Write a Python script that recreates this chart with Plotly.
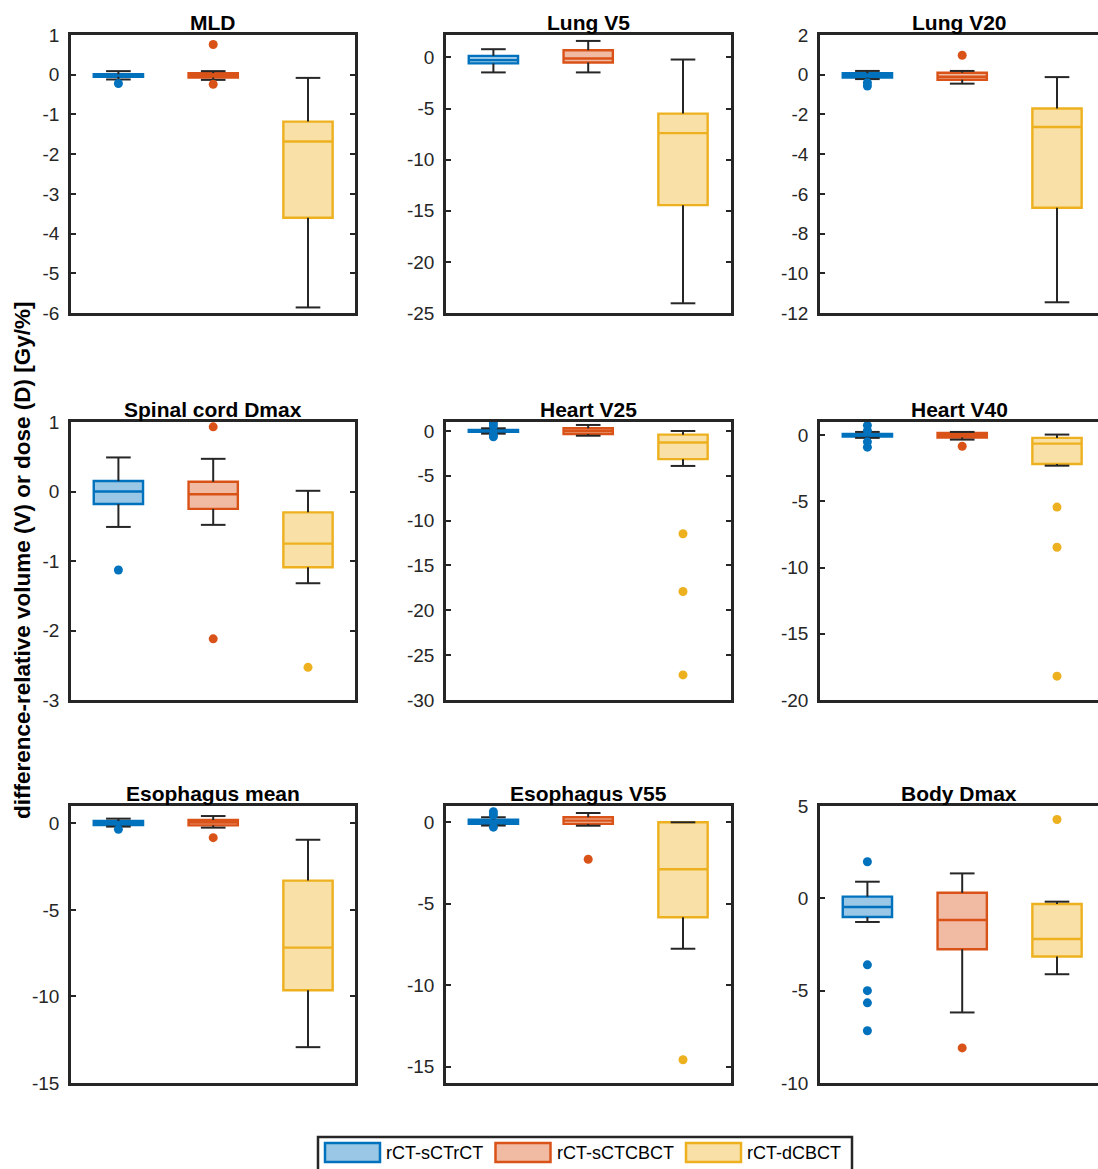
import plotly.graph_objects as go

# ---- data -------------------------------------------------------------
panels = ["MLD", "Lung V5", "Lung V20",
          "Spinal cord Dmax", "Heart V25", "Heart V40",
          "Esophagus mean", "Esophagus V55", "Body Dmax"]
series = ["rCT-sCTrCT", "rCT-sCTCBCT", "rCT-dCBCT"]

# per panel: [rCT-sCTrCT, rCT-sCTCBCT, rCT-dCBCT]
lower_whisker = [
    [-0.12, -0.13, -5.86],
    [-1.46, -1.46, -24.05],
    [-0.22, -0.45, -11.46],
    [-0.51, -0.48, -1.32],
    [-0.30, -0.53, -3.90],
    [-0.20, -0.33, -2.30],
    [-0.19, -0.25, -12.93],
    [-0.20, -0.21, -7.76],
    [-1.28, -6.18, -4.11],
]
q1 = [
    [-0.05, -0.07, -3.60],
    [-0.58, -0.49, -14.45],
    [-0.14, -0.25, -6.70],
    [-0.18, -0.25, -1.09],
    [-0.10, -0.34, -3.14],
    [-0.10, -0.17, -2.17],
    [-0.10, -0.12, -9.64],
    [-0.10, -0.10, -5.83],
    [-1.01, -2.76, -3.15],
]
median = [
    [-0.02, -0.01, -1.68],
    [-0.26, -0.10, -7.40],
    [-0.04, -0.10, -2.63],
    [0.00, -0.04, -0.75],
    [0.00, 0.00, -1.28],
    [0.00, 0.00, -0.63],
    [0.02, 0.05, -7.18],
    [0.03, 0.10, -2.88],
    [-0.47, -1.17, -2.20],
]
q3 = [
    [0.01, 0.04, -1.18],
    [0.16, 0.71, -5.49],
    [0.07, 0.10, -1.70],
    [0.15, 0.14, -0.30],
    [0.10, 0.30, -0.41],
    [0.10, 0.17, -0.20],
    [0.13, 0.19, -3.31],
    [0.16, 0.31, 0.00],
    [0.09, 0.30, -0.31],
]
upper_whisker = [
    [0.09, 0.09, -0.08],
    [0.81, 1.62, -0.20],
    [0.19, 0.19, -0.12],
    [0.49, 0.47, 0.01],
    [0.30, 0.67, 0.00],
    [0.25, 0.25, 0.05],
    [0.27, 0.42, -0.95],
    [0.31, 0.57, 0.00],
    [0.90, 1.35, -0.18],
]
outliers = [
    [[-0.22], [0.76, -0.24], []],
    [[], [], []],
    [[-0.40, -0.57], [0.98], []],
    [[-1.13], [0.93, -2.12], [-2.53]],
    [[0.90, 0.55, -0.45, -0.65], [], [-11.46, -17.9, -27.2]],
    [[0.75, 0.35, -0.50, -0.90], [-0.83], [-5.43, -8.46, -18.2]],
    [[-0.35], [-0.83], []],
    [[0.65, 0.45, -0.30], [-2.27], [-14.57]],
    [[1.98, -3.60, -5.00, -5.66, -7.17], [-8.10], [4.27]],
]
y_ranges = [[-6, 1], [-25, 2.2], [-12, 2],
            [-3, 1], [-30, 1], [-20, 1],
            [-15, 1], [-16, 1], [-10, 5]]
y_ticks = [
    [-6, -5, -4, -3, -2, -1, 0, 1],
    [-25, -20, -15, -10, -5, 0],
    [-12, -10, -8, -6, -4, -2, 0, 2],
    [-3, -2, -1, 0, 1],
    [-30, -25, -20, -15, -10, -5, 0],
    [-20, -15, -10, -5, 0],
    [-15, -10, -5, 0],
    [-15, -10, -5, 0],
    [-10, -5, 0, 5],
]

# ---- style ------------------------------------------------------------
W, H = 1098, 1169
LINE_COLORS = ["#0072BD", "#D95319", "#EDB120"]
FILL_COLORS = ["rgba(0,114,189,0.4)", "rgba(217,83,25,0.4)", "rgba(237,177,32,0.4)"]
DARK = "#262626"
FONT = "Liberation Sans, Arial, Helvetica, sans-serif"
BOX_W = 0.52
CAP_HALF = 0.13
UNIT_PX = 94.8

col_px = [(71, 355), (446, 731), (820, 1098)]
row_px = [(35, 313), (422, 700), (806, 1083)]

# legend frame and item placement (pixels)
LEG_FRAME = (318, 852, 1137)
LEG_ITEM_X = [325, 495.5, 686]
LEG_SWATCH = (55, 1143, 1162)

fig = go.Figure()
layout = {}

for i, name in enumerate(panels):
    r, c = divmod(i, 3)
    k = "" if i == 0 else str(i + 1)
    xa, ya = "x" + k, "y" + k

    # whiskers with caps
    for s in range(3):
        p = s + 1
        fig.add_trace(go.Scatter(
            x=[p, p, None, p - CAP_HALF, p + CAP_HALF, None,
               p, p, None, p - CAP_HALF, p + CAP_HALF],
            y=[q3[i][s], upper_whisker[i][s], None,
               upper_whisker[i][s], upper_whisker[i][s], None,
               q1[i][s], lower_whisker[i][s], None,
               lower_whisker[i][s], lower_whisker[i][s]],
            mode="lines", line=dict(color=DARK, width=2),
            xaxis=xa, yaxis=ya, showlegend=False, hoverinfo="skip"))

    # boxes
    for s in range(3):
        fig.add_trace(go.Box(
            x=[s + 1], q1=[q1[i][s]], median=[median[i][s]], q3=[q3[i][s]],
            lowerfence=[q1[i][s]], upperfence=[q3[i][s]],
            width=BOX_W, whiskerwidth=0, boxpoints=False,
            fillcolor=FILL_COLORS[s], line=dict(color=LINE_COLORS[s], width=2.4),
            name=series[s], showlegend=False,
            xaxis=xa, yaxis=ya))

    # outliers
    for s in range(3):
        if outliers[i][s]:
            fig.add_trace(go.Scatter(
                x=[s + 1] * len(outliers[i][s]), y=outliers[i][s],
                mode="markers", marker=dict(color=LINE_COLORS[s], size=9),
                xaxis=xa, yaxis=ya, showlegend=False, hoverinfo="skip"))

    x0, x1 = col_px[c]
    y0, y1 = row_px[r]
    xr = [0.5, 0.5 + (x1 - x0) / UNIT_PX]
    layout["xaxis" + k] = dict(
        domain=[x0 / W, x1 / W], range=xr, anchor=ya,
        showline=True, linecolor=DARK, linewidth=2.5, mirror=True,
        showticklabels=False, ticks="", showgrid=False, zeroline=False,
        automargin=False)
    layout["yaxis" + k] = dict(
        domain=[1 - y1 / H, 1 - y0 / H], range=y_ranges[i], anchor=xa,
        tickvals=y_ticks[i], ticktext=[str(v) for v in y_ticks[i]],
        ticks="inside", ticklen=5, tickwidth=2, tickcolor=DARK,
        ticklabelstandoff=5,
        showline=True, linecolor=DARK, linewidth=2.5,
        mirror=("ticks" if c < 2 else False),
        showgrid=False, zeroline=False, automargin=False,
        tickfont=dict(family=FONT, size=19, color=DARK))

annotations = []
for i, name in enumerate(panels):
    k = "" if i == 0 else str(i + 1)
    annotations.append(dict(
        text="<b>" + name + "</b>", x=0.5, y=1,
        xref="x" + k + " domain", yref="y" + k + " domain",
        xanchor="center", yanchor="bottom", yshift=-1, showarrow=False,
        font=dict(family=FONT, size=21, color="black")))
annotations.append(dict(
    text="<b>difference-relative volume (V) or dose (D) [Gy/%]</b>",
    x=22 / W, y=1 - 560 / H, xref="paper", yref="paper",
    xanchor="center", yanchor="middle", textangle=-90, showarrow=False,
    font=dict(family=FONT, size=22.5, color="black")))

# legend: frame, swatches and labels
shapes = [dict(type="rect", xref="paper", yref="paper",
               x0=LEG_FRAME[0] / W, x1=LEG_FRAME[1] / W,
               y0=1 - LEG_FRAME[2] / H, y1=-0.05,
               line=dict(color=DARK, width=2.5), fillcolor="white")]
sw, sy0, sy1 = LEG_SWATCH
for s in range(3):
    lx = LEG_ITEM_X[s]
    shapes.append(dict(type="rect", xref="paper", yref="paper",
                       x0=lx / W, x1=(lx + sw) / W,
                       y0=1 - sy1 / H, y1=1 - sy0 / H,
                       line=dict(color=LINE_COLORS[s], width=2.5),
                       fillcolor=FILL_COLORS[s]))
    annotations.append(dict(
        text=series[s], x=(lx + sw + 4) / W, y=1 - (sy0 + sy1) / 2 / H,
        xref="paper", yref="paper", xanchor="left", yanchor="middle",
        showarrow=False, font=dict(family=FONT, size=18, color="black")))

fig.update_layout(
    width=W, height=H, autosize=False,
    margin=dict(l=0, r=0, t=0, b=0, autoexpand=False),
    paper_bgcolor="white", plot_bgcolor="white",
    boxmode="overlay",
    showlegend=False,
    annotations=annotations,
    shapes=shapes,
    **layout)

fig.write_html("out.html")
